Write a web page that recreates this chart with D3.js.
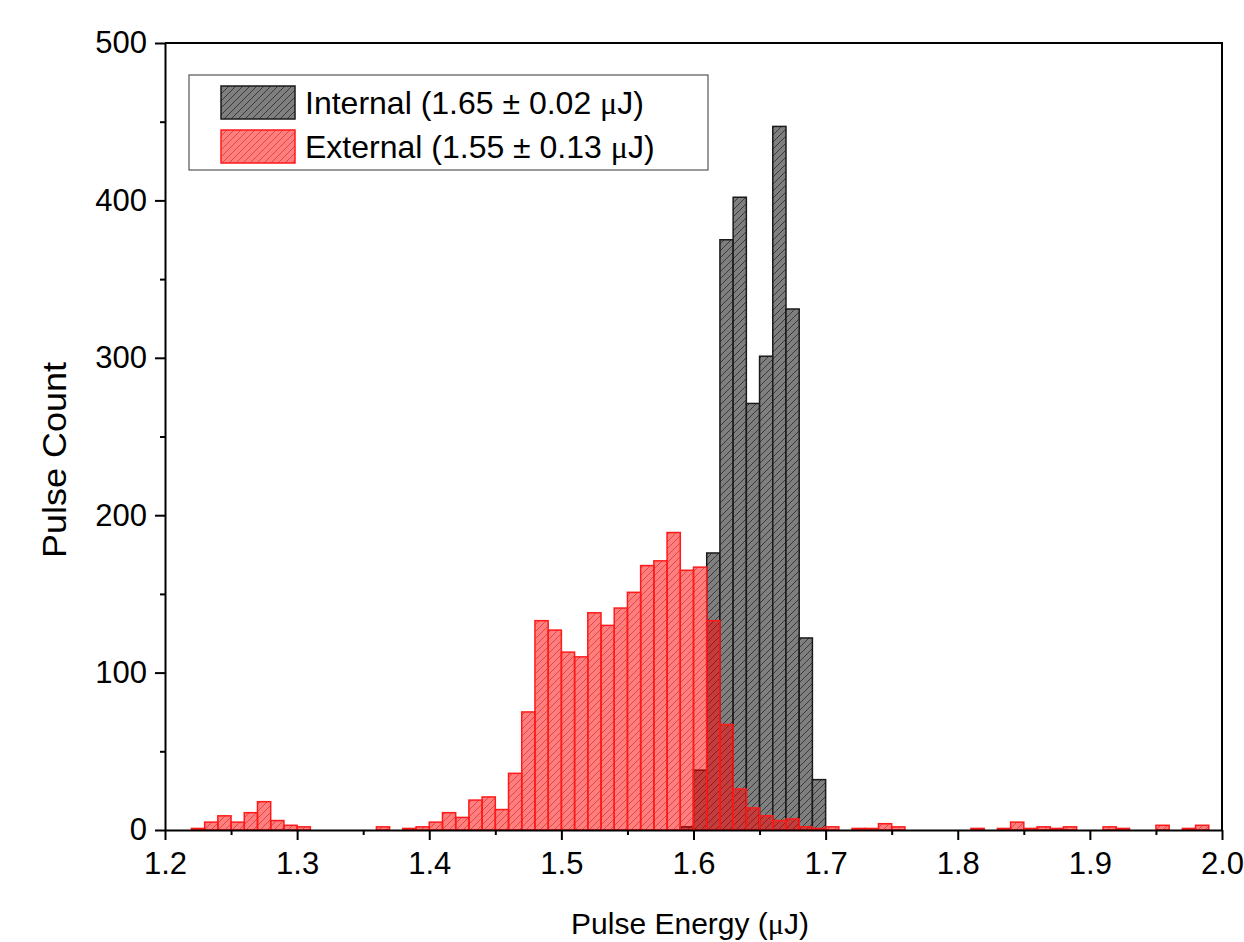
<html>
<head>
    <title>Pulse Energy Histogram</title>
    <script src="https://d3js.org/d3.v7.min.js"></script>
    <style>
        body { margin: 0; background: #fff; }
        text { font-family: "Liberation Sans", Arial, sans-serif; fill: #000; }
    </style>
</head>
<body>
    <svg id="hist" width="1244" height="942"></svg>

    <script>
        // histogram bins (left edge, 0.01 wide) and counts
        const internalBins   = [1.59, 1.60, 1.61, 1.62, 1.63, 1.64, 1.65, 1.66, 1.67, 1.68, 1.69];
        const internalCounts = [2, 38, 176, 375, 402, 271, 301, 447, 331, 122, 32];

        const externalBins = [1.22, 1.23, 1.24, 1.25, 1.26, 1.27, 1.28, 1.29, 1.30, 1.36, 1.38, 1.39,
                              1.40, 1.41, 1.42, 1.43, 1.44, 1.45, 1.46, 1.47, 1.48, 1.49, 1.50, 1.51,
                              1.52, 1.53, 1.54, 1.55, 1.56, 1.57, 1.58, 1.59, 1.60, 1.61, 1.62, 1.63,
                              1.64, 1.65, 1.66, 1.67, 1.68, 1.69, 1.70, 1.72, 1.73, 1.74, 1.75, 1.81,
                              1.83, 1.84, 1.85, 1.86, 1.87, 1.88, 1.91, 1.92, 1.95, 1.97, 1.98];
        const externalCounts = [1, 5, 9, 5, 11, 18, 6, 3, 2, 2, 1, 2,
                                5, 11, 8, 19, 21, 13, 36, 75, 133, 127, 113, 110,
                                138, 130, 141, 151, 168, 171, 189, 165, 167, 133, 67, 26,
                                14, 9, 6, 7, 2, 1, 2, 1, 1, 4, 2, 1,
                                1, 5, 1, 2, 1, 2, 2, 1, 3, 1, 3];
        const binWidth = 0.01;

        const xTicks = [1.2, 1.3, 1.4, 1.5, 1.6, 1.7, 1.8, 1.9, 2.0];
        const xMinor = [1.25, 1.35, 1.45, 1.55, 1.65, 1.75, 1.85, 1.95];
        const yTicks = [0, 100, 200, 300, 400, 500];
        const yMinor = [50, 150, 250, 350, 450];

        const svg = d3.select('svg#hist');
        const width = +svg.attr('width');
        const height = +svg.attr('height');

        const margins = { top: 43, right: 22, bottom: 112, left: 165 };
        const chartWidth = width - margins.left - margins.right;
        const chartHeight = height - margins.top - margins.bottom;

        // hatch patterns
        const defs = svg.append('defs');
        function hatch(id, color) {
            defs.append('pattern')
                .attr('id', id)
                .attr('patternUnits', 'userSpaceOnUse')
                .attr('width', 7)
                .attr('height', 7)
                .append('path')
                .attr('d', 'M0,7 L7,0 M-1,1 L1,-1 M6,8 L8,6')
                .attr('stroke', color)
                .attr('stroke-width', 1);
        }
        hatch('hatchGray', '#3a3a3a');
        hatch('hatchRed', 'rgba(190,0,0,0.45)');

        const chartArea = svg.append('g')
                             .attr('transform', `translate(${margins.left}, ${margins.top})`);

        const xScale = d3.scaleLinear().domain([1.2, 2.0]).range([0, chartWidth]);
        const yScale = d3.scaleLinear().domain([0, 500]).range([chartHeight, 0]);

        function drawBars(bins, counts, fill, hatchId, stroke) {
            const data = bins.map((b, i) => ({ x0: b, count: counts[i] }));
            const g = chartArea.append('g');
            const bars = g.selectAll('g').data(data).enter().append('g');
            bars.append('rect')
                .attr('x', d => xScale(d.x0))
                .attr('y', d => yScale(d.count))
                .attr('width', d => xScale(d.x0 + binWidth) - xScale(d.x0))
                .attr('height', d => yScale(0) - yScale(d.count))
                .attr('fill', fill);
            bars.append('rect')
                .attr('x', d => xScale(d.x0))
                .attr('y', d => yScale(d.count))
                .attr('width', d => xScale(d.x0 + binWidth) - xScale(d.x0))
                .attr('height', d => yScale(0) - yScale(d.count))
                .attr('fill', `url(#${hatchId})`)
                .attr('stroke', stroke)
                .attr('stroke-width', 1.5);
        }

        drawBars(internalBins, internalCounts, '#7f7f7f', 'hatchGray', '#1a1a1a');
        drawBars(externalBins, externalCounts, 'rgba(255,0,0,0.5)', 'hatchRed', '#ff1a1a');

        // frame (top and right)
        chartArea.append('path')
                 .attr('d', `M0,0 H${chartWidth} V${chartHeight}`)
                 .attr('fill', 'none')
                 .attr('stroke', '#000')
                 .attr('stroke-width', 2);

        // axes
        chartArea.append('g')
                 .attr('transform', `translate(0, ${chartHeight})`)
                 .call(d3.axisBottom(xScale).tickValues(xTicks).tickFormat(d3.format('.1f'))
                         .tickSize(10).tickPadding(12).tickSizeOuter(0));
        chartArea.append('g')
                 .attr('transform', `translate(0, ${chartHeight})`)
                 .call(d3.axisBottom(xScale).tickValues(xMinor).tickFormat('').tickSize(5).tickSizeOuter(0))
                 .select('.domain').remove();

        chartArea.append('g')
                 .call(d3.axisLeft(yScale).tickValues(yTicks).tickSize(10).tickPadding(8).tickSizeOuter(0));
        chartArea.append('g')
                 .call(d3.axisLeft(yScale).tickValues(yMinor).tickFormat('').tickSize(5).tickSizeOuter(0))
                 .select('.domain').remove();

        chartArea.selectAll('.domain, .tick line')
                 .attr('stroke', '#000')
                 .attr('stroke-width', 2);
        chartArea.selectAll('.tick text')
                 .attr('font-size', '31px')
                 .attr('font-family', '"Liberation Sans", Arial, sans-serif')
                 .attr('fill', '#000');

        // axis titles
        const xTitle = chartArea.append('text')
                 .attr('x', 690 - margins.left)
                 .attr('y', chartHeight + 104)
                 .attr('text-anchor', 'middle')
                 .attr('font-size', '30px');
        xTitle.append('tspan').text('Pulse Energy (');
        xTitle.append('tspan').attr('font-family', '"Liberation Serif", serif').text('μ');
        xTitle.append('tspan').text('J)');

        chartArea.append('text')
                 .attr('transform', 'rotate(-90)')
                 .attr('x', -(460 - margins.top))
                 .attr('y', -margins.left + 66)
                 .attr('text-anchor', 'middle')
                 .attr('font-size', '33px')
                 .attr('textLength', 196)
                 .attr('lengthAdjust', 'spacingAndGlyphs')
                 .text('Pulse Count');

        // legend
        const legend = svg.append('g');
        legend.append('rect')
              .attr('x', 189).attr('y', 75).attr('width', 519).attr('height', 95)
              .attr('fill', '#fff').attr('stroke', '#555').attr('stroke-width', 1.2);

        const legendItems = [
            { label: 'Internal', value: '1.65 ± 0.02 ', fill: '#7f7f7f', hatchId: 'hatchGray', stroke: '#1a1a1a' },
            { label: 'External', value: '1.55 ± 0.13 ', fill: 'rgba(255,0,0,0.5)', hatchId: 'hatchRed', stroke: '#ff1a1a' }
        ];
        legendItems.forEach((item, i) => {
            const y0 = 86 + i * 44;
            legend.append('rect').attr('x', 221).attr('y', y0).attr('width', 74).attr('height', 33)
                  .attr('fill', item.fill);
            legend.append('rect').attr('x', 221).attr('y', y0).attr('width', 74).attr('height', 33)
                  .attr('fill', `url(#${item.hatchId})`).attr('stroke', item.stroke).attr('stroke-width', 1.5);
            const t = legend.append('text')
                  .attr('x', 305).attr('y', y0 + 28)
                  .attr('font-size', '32px');
            t.append('tspan').text(`${item.label} (${item.value}`);
            t.append('tspan').attr('font-family', '"Liberation Serif", serif').text('μ');
            t.append('tspan').text('J)');
        });
    </script>
</body>
</html>
